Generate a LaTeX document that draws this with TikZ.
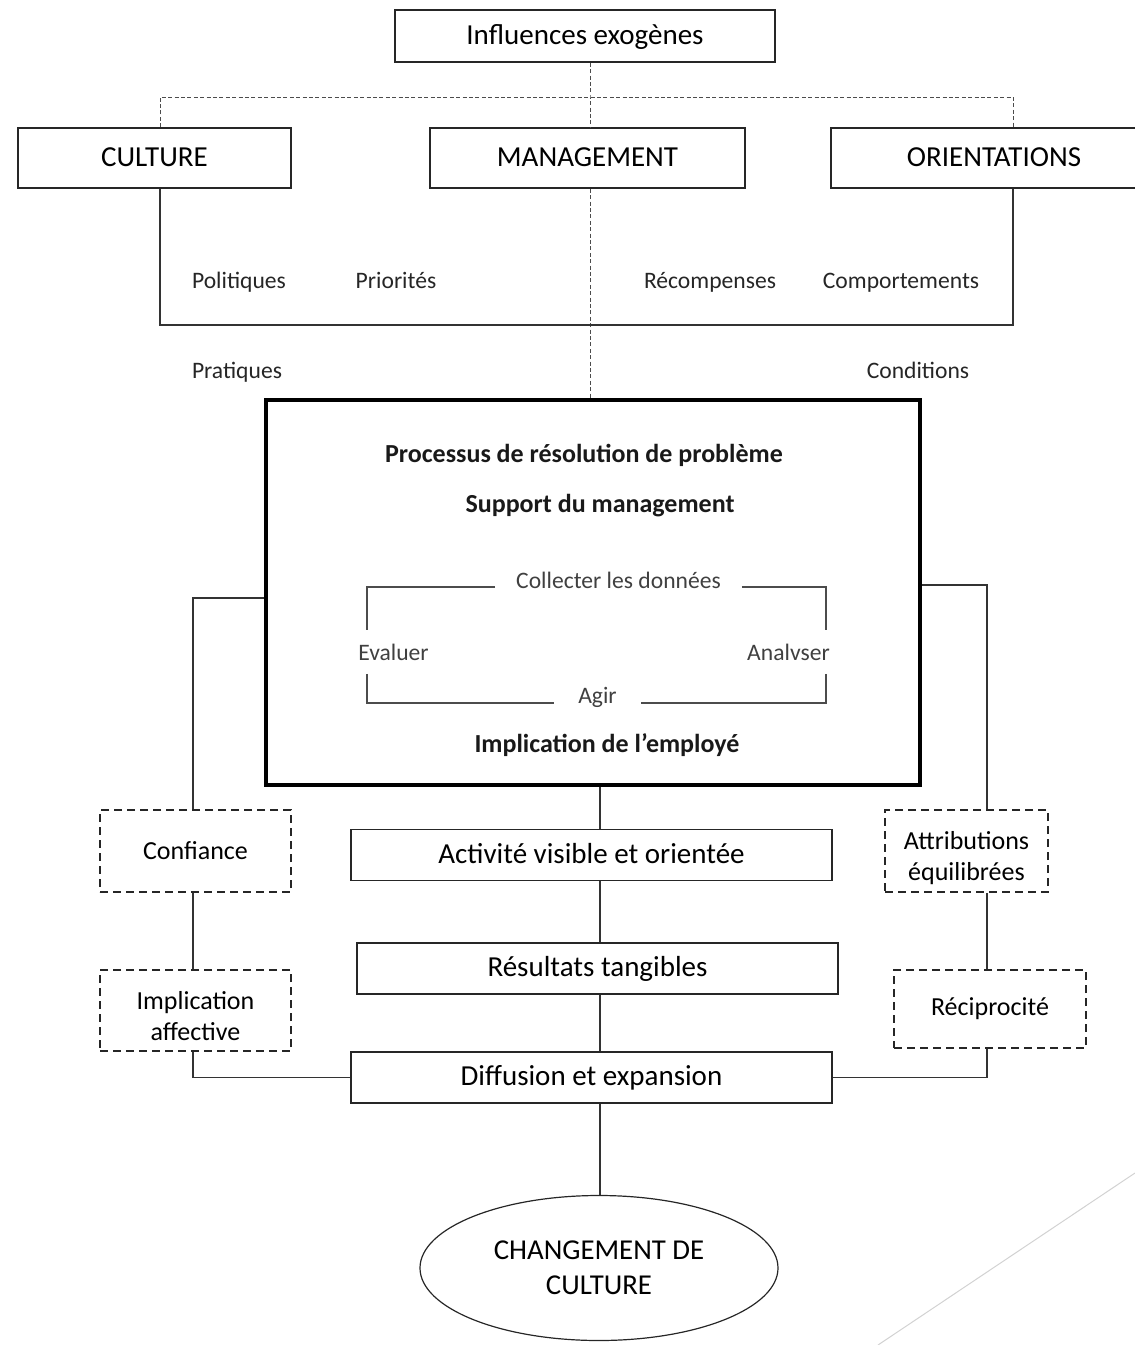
\documentclass[tikz,border=0pt]{standalone}
\usepackage{fontspec}
\setmainfont{Carlito}
\usetikzlibrary{shapes.geometric}

\begin{document}
\begin{tikzpicture}[x=0.5pt, y=-0.5pt,
  box/.style={draw=black!85, line width=0.75pt, fill=white, inner sep=0pt, text height=0.8em, text depth=0pt, font=\fontsize{14.5}{17}\selectfont},
  midbox/.style={box, minimum width=240.5pt, minimum height=25.5pt},
  dbox/.style={draw=black!85, line width=1pt, dash pattern=on 4pt off 2.5pt, inner sep=0pt, align=center, font=\fontsize{13}{15.5}\selectfont},
  lbl/.style={font=\fontsize{11.8}{14}\selectfont, text=black!85, text height=0.8em, text depth=0pt},
  ttl/.style={font=\fontsize{13}{15}\selectfont\bfseries, text=black!90, text height=0.8em, text depth=0pt},
  cyc/.style={font=\fontsize{11.8}{14}\selectfont, text=black!75, inner sep=0pt, text height=0.8em, text depth=0pt},
  link/.style={draw=black!80, line width=0.6pt},
  cyclink/.style={draw=black!70, line width=0.6pt},
  dotlink/.style={draw=black!70, line width=0.4pt, dash pattern=on 2pt off 1.2pt},
]
  \useasboundingbox (0,0) rectangle (1135,1345);

  % Top row
  \node[box, minimum width=190pt, minimum height=26pt] (infl) at (585,36) {Influences exogènes};
  \node[box, minimum width=136.5pt, minimum height=30pt] (cult) at (154.5,158) {CULTURE};
  \node[box, minimum width=157.5pt, minimum height=30pt] (mgmt) at (587.5,158) {MANAGEMENT};
  \node[box, minimum width=163pt, minimum height=30pt] (orie) at (994,158) {ORIENTATIONS};

  % Levers
  \node[lbl] (pol) at (239,280) {Politiques};
  \node[lbl] (pri) at (396,280) {Priorités};
  \node[lbl] (rec) at (710,280) {Récompenses};
  \node[lbl] (com) at (901,280) {Comportements};
  \node[lbl] (pra) at (237,370) {Pratiques};
  \node[lbl] (cnd) at (918,370) {Conditions};

  % Central process box
  \node[draw=black, line width=2pt, minimum width=327pt, minimum height=192.5pt] (big) at (593,592.5) {};
  \node[ttl] (proc) at (584,454) {Processus de résolution de problème};
  \node[ttl] (supp) at (600,504) {Support du management};
  \node[ttl] (empl) at (607,744) {Implication de l’employé};

  % Cycle
  \node[cyc, minimum width=123pt] (coll) at (618.5,580.5) {Collecter les données};
  \node[cyc, minimum height=21.5pt] (eval) at (393.5,652) {Evaluer};
  \node[cyc, minimum height=21.5pt] (anal) at (788.5,652) {Analvser};
  \node[cyc, minimum width=43.5pt] (agir) at (597.5,695.5) {Agir};
  \coordinate (c1) at (367,587);
  \coordinate (c2) at (826,587);
  \coordinate (c3) at (826,703);
  \coordinate (c4) at (367,703);
  \draw[cyclink] (coll.west |- c1) -- (c1) -- (eval.north -| c1);
  \draw[cyclink] (coll.east |- c2) -- (c2) -- (anal.north -| c2);
  \draw[cyclink] (eval.south -| c4) -- (c4) -- (agir.west |- c4);
  \draw[cyclink] (anal.south -| c3) -- (c3) -- (agir.east |- c3);

  % Side conditions
  \node[dbox, minimum width=95.5pt, minimum height=41pt] (conf) at (195.5,851) {Confiance};
  \node[dbox, minimum width=81.5pt, minimum height=41pt] (attr) at (966.5,851) {\rule{0pt}{1.2em}Attributions\\équilibrées};
  \node[dbox, minimum width=95.5pt, minimum height=40.5pt] (impl) at (195.5,1010.5) {\rule{0pt}{1.1em}Implication\\affective};
  \node[dbox, minimum width=96pt, minimum height=39pt] (reci) at (990,1009) {Réciprocité};

  % Outcomes
  \node[midbox] (act) at (591.5,855) {Activité visible et orientée};
  \node[midbox] (res) at (597.5,968.5) {Résultats tangibles};
  \node[midbox] (diff) at (591.5,1077.5) {Diffusion et expansion};
  \node[ellipse, draw=black!85, line width=0.6pt, minimum width=179pt, minimum height=72.5pt,
        align=center, font=\fontsize{14.4}{17.5}\selectfont] (chg) at (599,1268) {CHANGEMENT DE\\CULTURE};

  % Exogenous links (dashed)
  \coordinate (hub) at (590,97);
  \coordinate (lx) at (160,97);
  \coordinate (rx) at (1013,97);
  \coordinate (base) at (590,325);
  \draw[dotlink] (infl.south -| hub) -- (hub) -- (mgmt.north -| hub);
  \draw[dotlink] (cult.north -| lx) -- (lx) -- (rx) -- (orie.north -| rx);
  \draw[dotlink] (mgmt.south -| hub) -- (big.north -| hub);
  \draw[link] (cult.south -| lx) -- (lx |- base) -- (rx |- base) -- (orie.south -| rx);

  % Spine
  \coordinate (sx) at (600,0);
  \draw[link] (big.south -| sx) -- (act.north -| sx);
  \draw[link] (act.south -| sx) -- (res.north -| sx);
  \draw[link] (res.south -| sx) -- (diff.north -| sx);
  \draw[link] (diff.south -| sx) -- (chg.north -| sx);

  % Side branches
  \coordinate (lj) at (193,598);
  \coordinate (rj) at (987,585);
  \draw[link] (big.west |- lj) -- (lj) -- (conf.north -| lj);
  \draw[link] (big.east |- rj) -- (rj) -- (attr.north -| rj);
  \draw[link] (conf.south -| lj) -- (impl.north -| lj);
  \draw[link] (attr.south -| rj) -- (reci.north -| rj);
  \draw[link] (impl.south -| lj) |- (diff.west);
  \draw[link] (reci.south -| rj) |- (diff.east);

  % Slide decoration
  \draw[gray!35, line width=0.5pt] (878,1345) -- (1135,1173);
\end{tikzpicture}
\end{document}
